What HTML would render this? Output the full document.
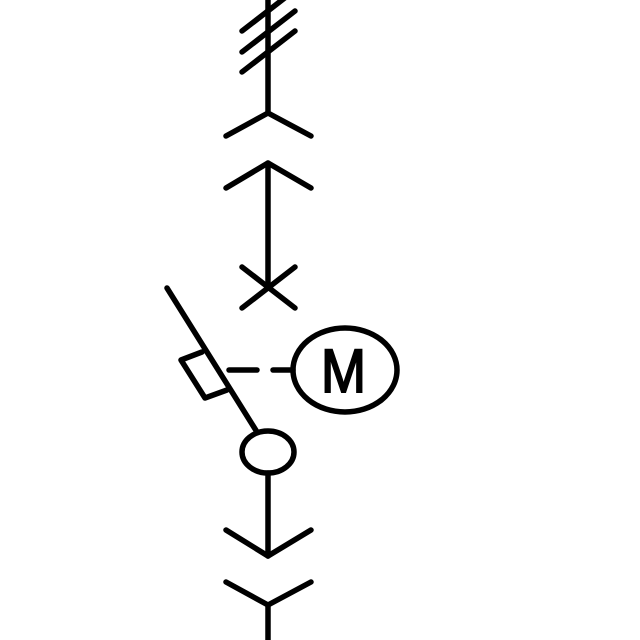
<!DOCTYPE html>
<html><head><meta charset="utf-8"><style>html,body{margin:0;padding:0;background:#fff;}svg{display:block}</style></head>
<body>
<svg width="640" height="640" viewBox="0 0 640 640">
<g fill="none" stroke="#000" stroke-width="5.5" stroke-linecap="round" stroke-linejoin="round">
  <line x1="268" y1="-5" x2="268" y2="113"/>
  <line x1="242" y1="31" x2="295" y2="-10"/>
  <line x1="242" y1="52" x2="295" y2="11"/>
  <line x1="242" y1="72" x2="295" y2="31"/>
  <polyline points="226,136 268,113 311,136"/>
  <polyline points="226,188 268,163 311,188"/>
  <line x1="268" y1="163" x2="268" y2="287"/>
  <line x1="242" y1="267" x2="295" y2="308"/>
  <line x1="242" y1="308" x2="295" y2="267"/>
  <line x1="167" y1="288" x2="257" y2="432"/>
  <polyline points="202,352 181,360 205,398 227,390"/>
  <line x1="229" y1="370" x2="257" y2="370"/>
  <line x1="273" y1="370" x2="293" y2="370"/>
  <ellipse cx="345" cy="370" rx="52" ry="42"/>
  <ellipse cx="268" cy="452" rx="26" ry="21"/>
  <line x1="268" y1="473" x2="268" y2="556"/>
  <polyline points="226,530 268,556 311,530"/>
  <polyline points="226,582 268,605 311,582"/>
  <line x1="268" y1="605" x2="268" y2="645"/>
</g>
<text x="321" y="392" font-family="Liberation Sans, sans-serif" font-size="61" textLength="45" lengthAdjust="spacingAndGlyphs" fill="#000" stroke="#000" stroke-width="2">M</text>
</svg>
</body></html>
